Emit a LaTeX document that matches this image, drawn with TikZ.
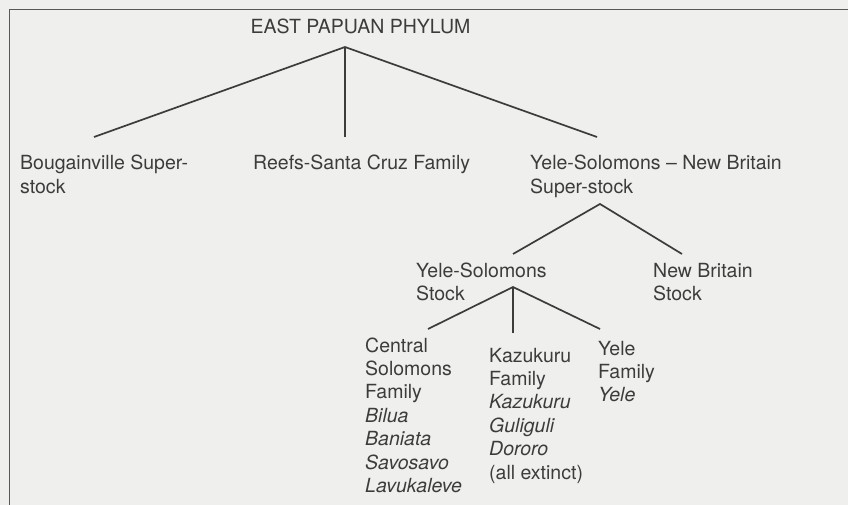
\documentclass[tikz,border=0pt]{standalone}
\usepackage{fontspec}
\setmainfont{TeX Gyre Heros}
\usetikzlibrary{positioning}
\definecolor{paper}{HTML}{EFEFED}
\definecolor{ink}{HTML}{3C3C3C}
\begin{document}
\begin{tikzpicture}[x=1pt,y=-1pt,
   lbl/.style={anchor=base west,inner sep=0pt,align=left,text=ink,
     font=\fontsize{19.5}{23.4}\selectfont},
   branch/.style={draw=ink,line width=1.7pt}]
	\fill[paper] (0,0) rectangle (848,505);
	\useasboundingbox (0,0) rectangle (848,505);
	\draw[ink!85,line width=1.4pt] (848,9.5) -- (9.5,9.5) -- (9.5,505);
	% phylum level (multi-line labels sit on the baseline of their last line)
	\node[lbl] (phylum) at (250.5,34) {EAST PAPUAN PHYLUM};
	\node[lbl] (bou) at (20,193.4) {Bougainville Super-\\stock};
	\node[lbl] (reef) at (253,170) {Reefs-Santa Cruz Family};
	\node[lbl] (ysnb) at (530,193.4) {Yele-Solomons -- New Britain\\Super-stock};
	\coordinate (phylum-fork) at (345,47);
	\coordinate (bou-tip) at (94,137);
	\coordinate (reef-tip) at (345,137);
	\coordinate (ysnb-tip) at (597,137);
	\draw[branch] (bou-tip) -- (phylum-fork) -- (ysnb-tip);
	\draw[branch] (phylum-fork) -- (reef-tip);
	% super-stock level
	\node[lbl] (ys) at (416,300.4) {Yele-Solomons\\Stock};
	\node[lbl] (nb) at (653,300.4) {New Britain\\Stock};
	\coordinate (ysnb-fork) at (600,204);
	\coordinate (ys-tip) at (513,254);
	\coordinate (nb-tip) at (682,254);
	\draw[branch] (ys-tip) -- (ysnb-fork) -- (nb-tip);
	% stock level
	\node[lbl] (cs) at (365,492.4) {Central\\Solomons\\Family\\\textit{Bilua}\\\textit{Baniata}\\\textit{Savosavo}\\\textit{Lavukaleve}};
	\node[lbl] (kaz) at (489,479) {Kazukuru\\Family\\\textit{Kazukuru}\\\textit{Guliguli}\\\textit{Dororo}\\(all extinct)};
	\node[lbl] (yele) at (598,401.8) {Yele\\Family\\\textit{Yele}};
	\coordinate (ys-fork) at (513,287);
	\coordinate (cs-tip) at (428,329);
	\coordinate (kaz-tip) at (513,333);
	\coordinate (yele-tip) at (600,329);
	\draw[branch] (cs-tip) -- (ys-fork) -- (yele-tip);
	\draw[branch] (ys-fork) -- (kaz-tip);
\end{tikzpicture}
\end{document}
